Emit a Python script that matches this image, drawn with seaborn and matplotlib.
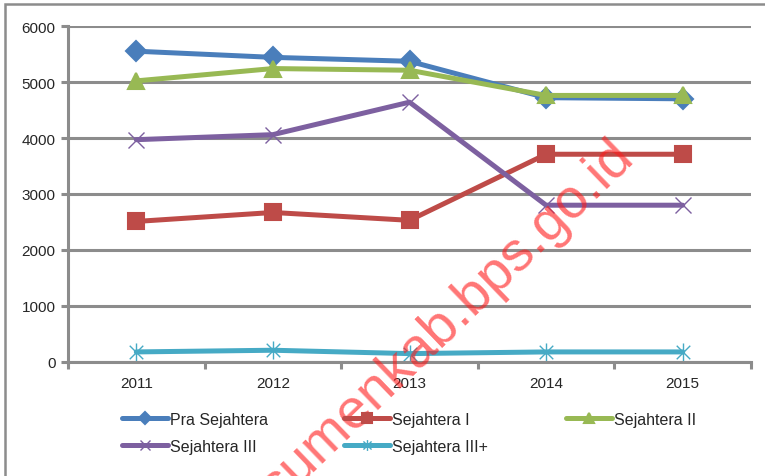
import matplotlib
matplotlib.use("Agg")
import matplotlib.pyplot as plt
import seaborn as sns
import pandas as pd
from matplotlib.patches import Rectangle
from matplotlib.lines import Line2D
from matplotlib.path import Path

years = ["2011", "2012", "2013", "2014", "2015"]
pra = [5550, 5440, 5370, 4720, 4700]
s1 = [2510, 2670, 2530, 3710, 3710]
s2 = [5020, 5240, 5210, 4760, 4760]
s3 = [3970, 4060, 4640, 2800, 2800]
s3p = [180, 210, 150, 180, 180]
series_names = ["Pra Sejahtera", "Sejahtera I", "Sejahtera II", "Sejahtera III", "Sejahtera III+"]
colors = ["#4a7ebb", "#be4b48", "#98b954", "#7d60a0", "#46aac5"]

star = Path([(0, -1), (0, 1), (-0.75, -0.75), (0.75, 0.75), (-0.75, 0.75), (0.75, -0.75)],
            [Path.MOVETO, Path.LINETO, Path.MOVETO, Path.LINETO, Path.MOVETO, Path.LINETO])
markers = ["D", "s", "^", "x", star]
msizes = [10, 11, 11, 11, 13]
medges = [1.5, 1.5, 1.5, 1.0, 1.0]

sns.set_style("white")
plt.rcParams["font.family"] = ["Liberation Sans", "DejaVu Sans"]

fig = plt.figure(figsize=(7.65, 4.77), dpi=100)
ax = fig.add_axes([68 / 765, 1 - 363 / 477, (751 - 68) / 765, (363 - 27) / 477])

for name, vals, c, m, ms, me in zip(series_names, [pra, s1, s2, s3, s3p], colors, markers, msizes, medges):
    d = pd.DataFrame({"idx": range(len(years)), "value": vals})
    sns.lineplot(data=d, x="idx", y="value", color=c, marker=m, linewidth=3.6,
                 markersize=ms, markeredgewidth=me, markeredgecolor=c,
                 markerfacecolor=c, ax=ax, legend=False)

ax.set_xlim(-0.5, 4.5)
ax.set_ylim(0, 6000)
ax.set_yticks(range(0, 6001, 1000))
ax.set_xticks(range(5))
ax.set_xticklabels(years)
ax.set_xlabel("")
ax.set_ylabel("")
ax.yaxis.grid(True, color="#8c8c8c", linewidth=2.2)
ax.set_axisbelow(True)
for s in ["top", "right"]:
    ax.spines[s].set_visible(False)
for s in ["left", "bottom"]:
    ax.spines[s].set_color("#8c8c8c")
    ax.spines[s].set_linewidth(2.2)
ax.tick_params(axis="x", length=0, labelsize=11, pad=10)
ax.tick_params(axis="y", length=5, width=2.2, color="#8c8c8c", labelsize=11, pad=4, left=True)
ax.set_xticks([-0.5, 0.5, 1.5, 2.5, 3.5, 4.5], minor=True)
ax.tick_params(axis="x", which="minor", length=5, width=2.2, color="#8c8c8c", bottom=True)

handles = [Line2D([0], [0], color=c, lw=3.6, marker=m, markersize=ms * 0.6, markeredgecolor=c,
                  markerfacecolor=c, markeredgewidth=me)
           for c, m, ms, me in zip(colors, markers, msizes, medges)]
columns = [([0, 3], 122), ([1, 4], 344), ([2], 566)]
for idxs, xpix in columns:
    fig.legend([handles[i] for i in idxs], [series_names[i] for i in idxs],
               loc="upper left", bbox_to_anchor=(xpix / 765, 1 - 413 / 477),
               frameon=False, fontsize=11.5, handlelength=2.9, handletextpad=0.1,
               labelspacing=0.75, borderaxespad=0, borderpad=0)

fig.patches.append(Rectangle((5 / 765, -0.05), 1.0, 1 - 5 / 477 + 0.05,
                             transform=fig.transFigure, fill=False,
                             edgecolor="#8c8c8c", linewidth=1.8))

fig.text(636 / 765, 1 - 160 / 477, "sumenkab.bps.go.id", color="#ff1a1a", alpha=0.6,
         fontsize=40, rotation=44, rotation_mode="anchor", ha="right", va="baseline")

fig.savefig("out.png", dpi=100)
